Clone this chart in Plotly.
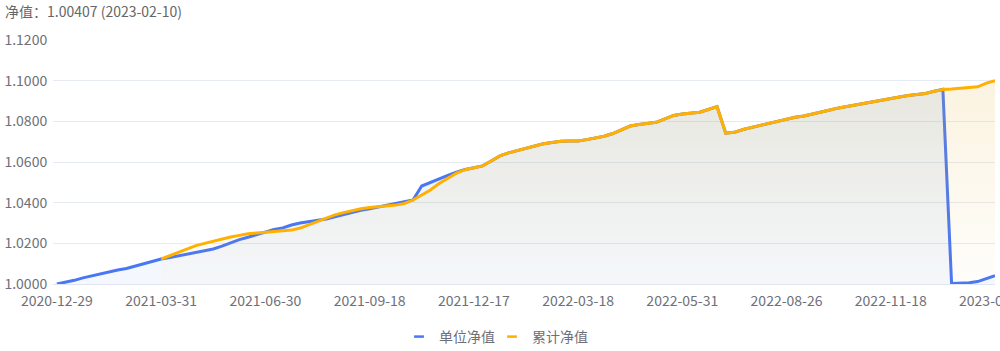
import plotly.graph_objects as go

dates = [
    "2020-12-29", "2021-01-06", "2021-01-14", "2021-01-21", "2021-01-28", "2021-02-04",
    "2021-02-19", "2021-02-26", "2021-03-05", "2021-03-12", "2021-03-19", "2021-03-25",
    "2021-03-31", "2021-04-08", "2021-04-15", "2021-04-22", "2021-04-29", "2021-05-10",
    "2021-05-17", "2021-05-24", "2021-05-31", "2021-06-07", "2021-06-15", "2021-06-22",
    "2021-06-30", "2021-07-07", "2021-07-14", "2021-07-21", "2021-07-28", "2021-08-04",
    "2021-08-11", "2021-08-18", "2021-08-25", "2021-09-01", "2021-09-08", "2021-09-14",
    "2021-09-18", "2021-09-27", "2021-10-11", "2021-10-18", "2021-10-25", "2021-11-01",
    "2021-11-08", "2021-11-15", "2021-11-22", "2021-11-29", "2021-12-06", "2021-12-10",
    "2021-12-17", "2021-12-24", "2021-12-31", "2022-01-07", "2022-01-14", "2022-01-21",
    "2022-01-28", "2022-02-11", "2022-02-18", "2022-02-25", "2022-03-04", "2022-03-11",
    "2022-03-18", "2022-03-24", "2022-03-30", "2022-04-08", "2022-04-15", "2022-04-22",
    "2022-04-29", "2022-05-06", "2022-05-12", "2022-05-18", "2022-05-24", "2022-05-27",
    "2022-05-31", "2022-06-09", "2022-06-16", "2022-06-23", "2022-06-30", "2022-07-07",
    "2022-07-14", "2022-07-21", "2022-07-28", "2022-08-04", "2022-08-11", "2022-08-18",
    "2022-08-26", "2022-09-02", "2022-09-09", "2022-09-16", "2022-09-23", "2022-09-30",
    "2022-10-14", "2022-10-21", "2022-10-28", "2022-11-04", "2022-11-10", "2022-11-15",
    "2022-11-18", "2022-11-25", "2022-12-02", "2022-12-09", "2022-12-16", "2022-12-23",
    "2022-12-30", "2023-01-06", "2023-01-13", "2023-01-20", "2023-02-03", "2023-02-07",
    "2023-02-10",
]

# 单位净值
unit_nav = [
    1.0000, 1.0008, 1.0018, 1.0030, 1.0040, 1.0050, 1.0060, 1.0069, 1.0076, 1.0087, 1.0098, 1.0110,
    1.0123, 1.0130, 1.0138, 1.0148, 1.0156, 1.0162, 1.0172, 1.0186, 1.0202, 1.0218, 1.0230, 1.0243,
    1.0256, 1.0268, 1.0276, 1.0290, 1.0300, 1.0306, 1.0313, 1.0320, 1.0331, 1.0342, 1.0353, 1.0362,
    1.0370, 1.0378, 1.0389, 1.0395, 1.0403, 1.0413, 1.0482, 1.0500, 1.0518, 1.0534, 1.0550, 1.0563,
    1.0572, 1.0581, 1.0605, 1.0630, 1.0645, 1.0656, 1.0668, 1.0680, 1.0690, 1.0696, 1.0702, 1.0703,
    1.0703, 1.0710, 1.0718, 1.0727, 1.0740, 1.0758, 1.0777, 1.0784, 1.0790, 1.0795, 1.0812, 1.0829,
    1.0836, 1.0840, 1.0845, 1.0858, 1.0872, 1.0742, 1.0746, 1.0760, 1.0770, 1.0781, 1.0793, 1.0803,
    1.0812, 1.0820, 1.0826, 1.0835, 1.0845, 1.0856, 1.0866, 1.0874, 1.0882, 1.0891, 1.0899, 1.0906,
    1.0913, 1.0920, 1.0927, 1.0932, 1.0937, 1.0948, 1.0957, 1.0003, 1.0004, 1.0006, 1.0012, 1.0028,
    1.00407,
]

# 累计净值 (starts on 2021-03-31)
acc_nav = [None] * 12 + [
    1.0123, 1.0140, 1.0155, 1.0172, 1.0189, 1.0200, 1.0211, 1.0222, 1.0231, 1.0239, 1.0247, 1.0251,
    1.0254, 1.0257, 1.0260, 1.0265, 1.0275, 1.0292, 1.0308, 1.0325, 1.0340, 1.0351, 1.0362, 1.0370,
    1.0376, 1.0380, 1.0384, 1.0388, 1.0396, 1.0413, 1.0438, 1.0462, 1.0494, 1.0521, 1.0545, 1.0562,
    1.0573, 1.0581, 1.0605, 1.0630, 1.0645, 1.0656, 1.0668, 1.0680, 1.0690, 1.0696, 1.0702, 1.0703,
    1.0703, 1.0710, 1.0718, 1.0727, 1.0740, 1.0758, 1.0777, 1.0784, 1.0790, 1.0795, 1.0812, 1.0829,
    1.0836, 1.0840, 1.0845, 1.0858, 1.0872, 1.0742, 1.0746, 1.0760, 1.0770, 1.0781, 1.0793, 1.0803,
    1.0812, 1.0820, 1.0826, 1.0835, 1.0845, 1.0856, 1.0866, 1.0874, 1.0882, 1.0891, 1.0899, 1.0906,
    1.0913, 1.0920, 1.0927, 1.0932, 1.0937, 1.0948, 1.0957, 1.0959, 1.0962, 1.0966, 1.0970, 1.0988,
    1.1000,
]

x_tick_labels = ["2020-12-29", "2021-03-31", "2021-06-30", "2021-09-18", "2021-12-17",
                 "2022-03-18", "2022-05-31", "2022-08-26", "2022-11-18", "2023-02-10"]
y_ticks = [1.0, 1.02, 1.04, 1.06, 1.08, 1.10, 1.12]

title_text = "净值：1.00407 (2023-02-10)"
names = ["单位净值", "累计净值"]

BLUE = "#4876F5"
ORANGE = "#FFB000"
FONT = "Noto Sans CJK SC, Noto Sans, sans-serif"
GRAY = "#6E7079"

acc_x = [d for d, v in zip(dates, acc_nav) if v is not None]
acc_y = [v for v in acc_nav if v is not None]

fig = go.Figure()
fig.add_trace(go.Scatter(
    x=dates, y=unit_nav, mode="lines", name=names[0], showlegend=False,
    line=dict(color=BLUE, width=3),
    fill="tozeroy",
    fillgradient=dict(type="vertical", start=1.0, stop=1.1,
                      colorscale=[[0, "rgba(90,150,240,0.06)"], [1, "rgba(90,150,240,0.14)"]]),
))
fig.add_trace(go.Scatter(
    x=acc_x, y=acc_y, mode="lines", name=names[1], showlegend=False,
    line=dict(color=ORANGE, width=3),
    fill="tozeroy",
    fillgradient=dict(type="vertical", start=1.0, stop=1.1,
                      colorscale=[[0, "rgba(230,180,60,0.02)"], [1, "rgba(230,180,60,0.16)"]]),
))
# legend entries (one small legend each, so they can sit close together)
for nm, col, lg in zip(names, [BLUE, ORANGE], ["legend", "legend2"]):
    fig.add_trace(go.Scatter(
        x=[None], y=[None], mode="markers", name=nm, legend=lg,
        marker=dict(symbol="line-ew-open", size=7, color=col, line=dict(color=col, width=2.5)),
    ))

legend_common = dict(orientation="h", xref="container", yref="container", xanchor="left",
                     y=1 - 337 / 351, yanchor="middle", font=dict(size=14, color=GRAY),
                     itemwidth=30, bgcolor="rgba(0,0,0,0)")

fig.update_layout(
    width=1000, height=351,
    margin=dict(l=53, r=5, t=40, b=67, autoexpand=False),
    paper_bgcolor="white", plot_bgcolor="white",
    font=dict(family=FONT, size=14, color=GRAY),
    title=dict(text=title_text, xref="container", yref="container", x=0.005, xanchor="left",
               y=1 - 12 / 351, yanchor="middle", font=dict(size=14, color="#666666")),
    legend=dict(x=0.399, **legend_common),
    legend2=dict(x=0.492, **legend_common),
    xaxis=dict(type="category", categoryorder="array", categoryarray=dates,
               range=[-0.45, len(dates) - 1], automargin=False,
               tickmode="array", tickvals=x_tick_labels, ticktext=x_tick_labels,
               showgrid=False, showline=True, linecolor="#E0E6F1", linewidth=1,
               ticks="outside", ticklen=4, tickcolor="rgba(0,0,0,0)",
               tickfont=dict(size=14, color=GRAY), zeroline=False),
    yaxis=dict(range=[1.0, 1.12], tickmode="array", tickvals=y_ticks, automargin=False,
               tickformat=".4f", showgrid=True, gridcolor="#E6EBF3", gridwidth=1,
               zeroline=False, showline=False,
               ticks="outside", ticklen=2, tickcolor="rgba(0,0,0,0)",
               tickfont=dict(size=14, color=GRAY)),
)

fig.write_html("out.html")
